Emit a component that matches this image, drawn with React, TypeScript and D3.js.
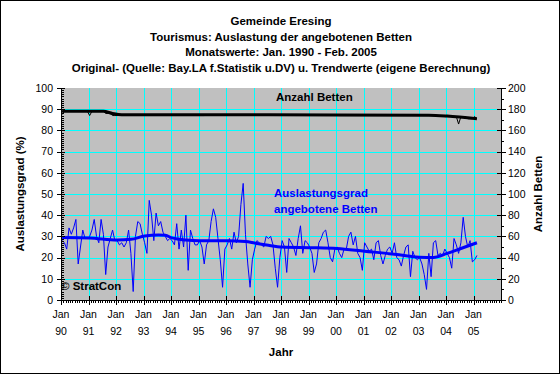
import React from 'react';
import * as d3 from 'd3';

const W = 560;
const H = 374;
const PLOT = { left: 61, right: 501, top: 88, bottom: 300 };
const FONT = "'Liberation Sans', Arial, sans-serif";

const titleLines = [
  'Gemeinde Eresing',
  'Tourismus: Auslastung der angebotenen Betten',
  'Monatswerte: Jan. 1990 - Feb. 2005',
  'Original- (Quelle: Bay.LA f.Statistik u.DV) u. Trendwerte (eigene Berechnung)',
];
const yearLabels = ['90', '91', '92', '93', '94', '95', '96', '97', '98', '99', '00', '01', '02', '03', '04', '05'];
const leftTicks = [0, 10, 20, 30, 40, 50, 60, 70, 80, 90, 100];
const rightTicks = [0, 20, 40, 60, 80, 100, 120, 140, 160, 180, 200];

// Auslastungsgrad (%) monthly, Jan 1990 - Feb 2005
const occupancy = [
  28, 27, 24, 34, 31, 34, 38, 17, 25, 33, 29, 29, // 1990
  30, 33, 38, 30, 27, 38, 31, 12, 25, 29, 33, 28, // 1991
  28, 26, 27, 25, 27, 33, 22, 4, 30, 37, 36, 31, // 1992
  27, 22, 47, 40, 28, 41, 35, 37, 32, 30, 28, 29, // 1993
  28, 26, 36, 24, 33, 25, 40, 14, 33, 29, 26, 26, // 1994
  28, 25, 17, 26, 28, 37, 43, 39, 29, 19, 6, 24, // 1995
  26, 29, 24, 32, 27, 30, 45, 55, 31, 17, 6, 19, // 1996
  24, 28, 27, 26, 25, 30, 29, 30, 26, 15, 6, 20, // 1997
  28, 25, 13, 29, 27, 25, 21, 29, 35, 22, 28, 27, // 1998
  25, 22, 13, 17, 27, 29, 32, 33, 27, 20, 18, 24, // 1999
  25, 22, 20, 24, 24, 30, 32, 26, 30, 22, 20, 14, // 2000
  27, 25, 23, 24, 19, 27, 28, 21, 17, 21, 24, 25, // 2001
  22, 27, 20, 19, 16, 21, 25, 26, 11, 23, 20, 19, // 2002
  20, 17, 12, 5, 22, 11, 27, 28, 21, 22, 21, 24, // 2003
  22, 20, 15, 29, 26, 22, 27, 39, 30, 25, 28, 18, // 2004
  19, 21, // 2005
];

// Anzahl Betten monthly
const beds = [
  175, 178, 178, 178, 178, 178, 178, 178, 178, 178, 178, 178,
  174, 178, 178, 178, 178, 178, 178, 176, 176, 176, 174, 174,
  174, 174, 174, 174, 174, 174, 174, 174, 174, 174, 174, 174,
  174, 174, 174, 174, 174, 174, 174, 174, 174, 174, 174, 174,
  174, 174, 174, 174, 174, 174, 174, 174, 174, 174, 174, 174,
  174, 174, 174, 175, 175, 175, 175, 175, 175, 175, 175, 175,
  175, 175, 175, 175, 175, 175, 175, 175, 175, 175, 175, 175,
  175, 175, 175, 175, 175, 175, 175, 175, 175, 175, 175, 175,
  175, 175, 175, 175, 175, 175, 175, 175, 175, 175, 175, 175,
  175, 175, 175, 175, 175, 175, 175, 175, 175, 175, 175, 175,
  175, 174, 174, 174, 174, 174, 174, 174, 174, 174, 174, 174,
  174, 174, 174, 174, 174, 174, 174, 174, 174, 174, 174, 174,
  174, 174, 174, 174, 174, 174, 174, 174, 174, 174, 174, 174,
  174, 174, 174, 174, 174, 174, 174, 174, 174, 174, 174, 173,
  173, 173, 173, 173, 173, 166, 173, 173, 173, 171, 171, 171,
  173, 171,
];

// trend knots (month index, value)
const occTrendMonth = [0, 12, 24, 30, 36, 42, 45, 48, 54, 60, 72, 80, 84, 90, 96, 108, 120, 132, 144, 150, 156, 162, 168, 174, 181];
const occTrendValue = [29.5, 29.3, 28.3, 28.6, 30.2, 30.7, 30.5, 29.3, 28.3, 28.0, 28.0, 27.6, 26.9, 25.8, 25.0, 24.7, 24.3, 23.0, 21.7, 20.9, 20.2, 20.1, 22.0, 24.3, 27.0];
const bedTrendMonth = [0, 18, 22, 26, 60, 120, 160, 168, 181];
const bedTrendValue = [178, 178, 176, 174.8, 174.7, 174.6, 174.3, 173.5, 171];

export default function App() {
  const x = d3.scaleLinear().domain([0, 192]).range([PLOT.left, PLOT.right]);
  const yL = d3.scaleLinear().domain([0, 100]).range([PLOT.bottom, PLOT.top]);
  const yR = d3.scaleLinear().domain([0, 200]).range([PLOT.bottom, PLOT.top]);

  const occLine = d3.line<number>().x((_, i) => x(i + 0.5)).y((d) => yL(d));
  const bedLine = d3.line<number>().x((_, i) => x(i + 0.5)).y((d) => yR(d));
  const occTrend = d3
    .line<number>()
    .x((_, i) => x(occTrendMonth[i] + 0.5))
    .y((d) => yL(d))
    .curve(d3.curveMonotoneX);
  const bedTrend = d3
    .line<number>()
    .x((_, i) => x(bedTrendMonth[i] + 0.5))
    .y((d) => yR(d))
    .curve(d3.curveMonotoneX);

  const years = d3.range(0, 16);
  const monthTicks = d3.range(0, 193);
  const leftMinor = d3.range(0, 101);
  const rightMinor = d3.range(0, 201, 10);

  const px = (v: number) => Math.round(v) + 0.5;

  return (
    <div style={{ position: 'absolute', left: 0, top: 0 }}>
      <svg width={W} height={H} style={{ display: 'block', fontFamily: FONT }}>
        <rect x={0} y={0} width={W} height={H} fill="#fff" />
        <rect x={0.5} y={0.5} width={W - 1} height={H - 1} fill="none" stroke="#000" />

        {titleLines.map((t, i) => (
          <text key={t} x={281} y={25 + i * 15.5} textAnchor="middle" fontSize={11.5} fontWeight="bold">
            {t}
          </text>
        ))}

        <rect x={PLOT.left} y={PLOT.top} width={PLOT.right - PLOT.left} height={PLOT.bottom - PLOT.top} fill="#C0C0C0" />

        <g shapeRendering="crispEdges" stroke="#00FFFF">
          {leftTicks.filter((t) => t > 0 && t < 100).map((t) => (
            <line key={'h' + t} x1={PLOT.left} x2={PLOT.right} y1={px(yL(t))} y2={px(yL(t))} />
          ))}
          {years.filter((k) => k > 0).map((k) => (
            <line key={'v' + k} x1={px(x(k * 12))} x2={px(x(k * 12))} y1={PLOT.top} y2={PLOT.bottom} />
          ))}
        </g>

        <path d={bedLine(beds) || ''} fill="none" stroke="#000" strokeWidth={1} />
        <path d={bedTrend(bedTrendValue) || ''} fill="none" stroke="#000" strokeWidth={3} />
        <path d={occLine(occupancy) || ''} fill="none" stroke="#0000FF" strokeWidth={1} />
        <path d={occTrend(occTrendValue) || ''} fill="none" stroke="#0000FF" strokeWidth={3} />

        <g shapeRendering="crispEdges" stroke="#000">
          <line x1={px(PLOT.left)} x2={px(PLOT.left)} y1={PLOT.top} y2={PLOT.bottom + 1} />
          <line x1={px(PLOT.right)} x2={px(PLOT.right)} y1={PLOT.top} y2={PLOT.bottom + 1} />
          <line x1={PLOT.left} x2={PLOT.right + 1} y1={px(PLOT.bottom)} y2={px(PLOT.bottom)} />
          {leftTicks.map((t) => (
            <line key={'lt' + t} x1={PLOT.left - 4} x2={PLOT.left + 4} y1={px(yL(t))} y2={px(yL(t))} />
          ))}
          {leftMinor.map((t) => (
            <line key={'lm' + t} x1={PLOT.left} x2={PLOT.left + 3} y1={px(yL(t))} y2={px(yL(t))} />
          ))}
          {rightTicks.map((t) => (
            <line key={'rt' + t} x1={PLOT.right - 4} x2={PLOT.right + 5} y1={px(yR(t))} y2={px(yR(t))} />
          ))}
          {rightMinor.map((t) => (
            <line key={'rm' + t} x1={PLOT.right} x2={PLOT.right + 3} y1={px(yR(t))} y2={px(yR(t))} />
          ))}
          {monthTicks.map((m) => (
            <line key={'mt' + m} x1={px(x(m))} x2={px(x(m))} y1={PLOT.bottom} y2={PLOT.bottom + 3} />
          ))}
          {years.map((k) => (
            <line key={'yt' + k} x1={px(x(k * 12))} x2={px(x(k * 12))} y1={PLOT.bottom - 4} y2={PLOT.bottom + 5} />
          ))}
        </g>

        <g fontSize={10.5} fill="#000">
          {leftTicks.map((t) => (
            <text key={'ll' + t} x={53} y={yL(t)} dy="0.36em" textAnchor="end">
              {t}
            </text>
          ))}
          {rightTicks.map((t) => (
            <text key={'rl' + t} x={508} y={yR(t)} dy="0.36em" textAnchor="start">
              {t}
            </text>
          ))}
          {years.map((k) => (
            <g key={'xl' + k}>
              <text x={x(k * 12)} y={318} textAnchor="middle">Jan</text>
              <text x={x(k * 12)} y={335} textAnchor="middle">{yearLabels[k]}</text>
            </g>
          ))}
        </g>

        <g fontSize={11.5} fontWeight="bold">
          <text x={281} y={356} textAnchor="middle">Jahr</text>
          <text transform={`translate(24,${(PLOT.top + PLOT.bottom) / 2}) rotate(-90)`} textAnchor="middle">
            Auslastungsgrad (%)
          </text>
          <text transform={`translate(542,${(PLOT.top + PLOT.bottom) / 2}) rotate(-90)`} textAnchor="middle">
            Anzahl Betten
          </text>
          <text x={276} y={101}>Anzahl Betten</text>
          <text x={274} y={197} fill="#0000FF">Auslastungsgrad</text>
          <text x={274} y={213} fill="#0000FF">angebotene Betten</text>
          <text x={61} y={290}>© StratCon</text>
        </g>
      </svg>
    </div>
  );
}
